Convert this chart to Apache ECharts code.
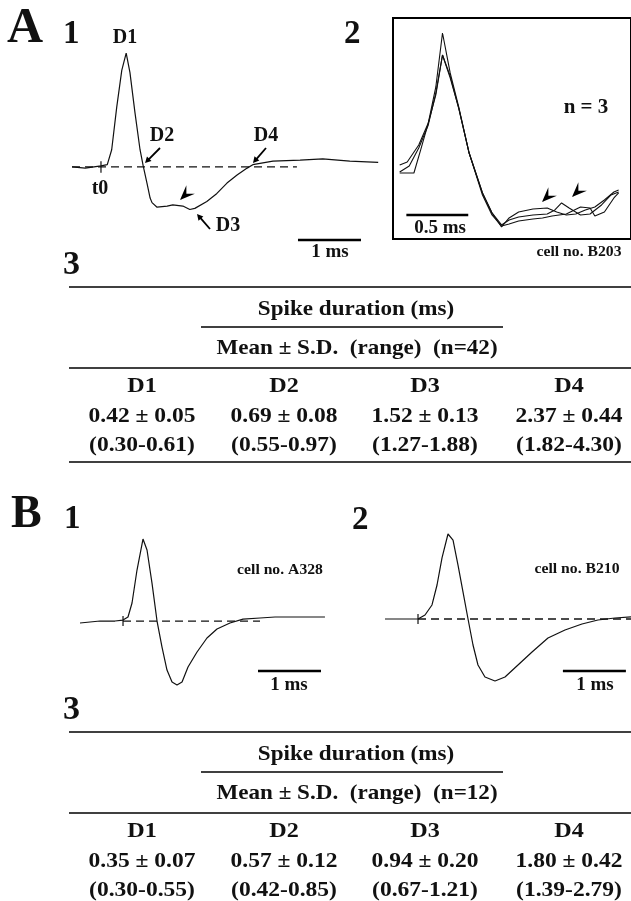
<!DOCTYPE html>
<html>
<head>
<meta charset="utf-8">
<script src="https://cdn.jsdelivr.net/npm/echarts@6/dist/echarts.min.js"></script>
<style>
html,body{margin:0;padding:0;background:#fff;}
#c{width:631px;height:901px;}
</style>
</head>
<body>
<div id="c"></div>
<script>
// ---------- DATA (time in ms from t0, amplitude in normalised units) ----------
const a1Trace = [[-0.46,0],[-0.25,-0.01],[0,0.01],[0.10,0.02],[0.17,0.15],[0.25,0.52],[0.33,0.84],[0.40,0.99],[0.46,0.82],[0.54,0.47],[0.62,0.15],[0.67,0.01],[0.73,-0.14],[0.78,-0.27],[0.81,-0.31],[0.89,-0.35],[1.05,-0.34],[1.14,-0.33],[1.30,-0.34],[1.41,-0.37],[1.49,-0.36],[1.68,-0.30],[1.84,-0.23],[2.00,-0.14],[2.16,-0.07],[2.32,-0.01],[2.41,0.02],[2.73,0.05],[3.16,0.06],[3.52,0.07],[3.95,0.05],[4.40,0.04]];
const a1Baseline = [[-0.46,0],[3.11,0]];

const a2Trace1 = [[0.054,0.022],[0.115,0.044],[0.208,0.170],[0.285,0.333],[0.346,0.600],[0.400,1.000],[0.462,0.704],[0.531,0.452],[0.615,0.111],[0.723,-0.185],[0.800,-0.333],[0.877,-0.437],[0.938,-0.370],[1.015,-0.326],[1.131,-0.304],[1.246,-0.296],[1.323,-0.326],[1.400,-0.348],[1.477,-0.341],[1.554,-0.311],[1.631,-0.289],[1.708,-0.237],[1.785,-0.178],[1.823,-0.163]];
const a2Trace2 = [[0.054,-0.037],[0.169,-0.037],[0.223,0.133],[0.285,0.333],[0.346,0.541],[0.400,0.837],[0.462,0.667],[0.531,0.444],[0.615,0.111],[0.723,-0.185],[0.800,-0.333],[0.877,-0.422],[0.938,-0.385],[1.015,-0.363],[1.131,-0.348],[1.246,-0.341],[1.308,-0.311],[1.362,-0.259],[1.423,-0.296],[1.515,-0.348],[1.592,-0.341],[1.685,-0.274],[1.762,-0.200],[1.823,-0.178]];
const a2Trace3 = [[0.054,-0.030],[0.131,0.015],[0.208,0.148],[0.285,0.319],[0.346,0.556],[0.400,0.837],[0.462,0.681],[0.531,0.444],[0.615,0.111],[0.723,-0.200],[0.800,-0.348],[0.877,-0.430],[0.938,-0.415],[1.015,-0.393],[1.131,-0.378],[1.208,-0.370],[1.285,-0.356],[1.400,-0.341],[1.515,-0.289],[1.592,-0.296],[1.631,-0.356],[1.708,-0.326],[1.785,-0.222],[1.823,-0.185]];

const b1Trace = [[-0.683,-0.024],[-0.365,0],[-0.127,0],[0,0.012],[0.079,0.049],[0.143,0.220],[0.222,0.622],[0.317,1.0],[0.381,0.866],[0.460,0.463],[0.540,0],[0.619,-0.317],[0.698,-0.598],[0.778,-0.744],[0.857,-0.780],[0.937,-0.744],[1.032,-0.561],[1.175,-0.378],[1.333,-0.207],[1.492,-0.098],[1.698,-0.024],[1.905,0.024],[2.175,0.037],[2.413,0.049],[3.206,0.049]];
const b1Baseline = [[0,0],[2.175,0]];

const b2Trace = [[-0.524,0],[0,0],[0.111,0.047],[0.222,0.165],[0.302,0.400],[0.381,0.718],[0.476,1.0],[0.556,0.929],[0.635,0.635],[0.714,0.318],[0.794,0],[0.873,-0.306],[0.952,-0.541],[1.063,-0.682],[1.222,-0.729],[1.381,-0.682],[1.587,-0.541],[1.810,-0.388],[2.063,-0.224],[2.333,-0.129],[2.603,-0.059],[2.857,-0.012],[3.127,0.012],[3.381,0.024]];
const b2Baseline = [[0,0],[3.381,0]];

// scale bars: [start ms, length ms, level]
const a1ScaleBar = [3.127, 1.0, -0.635];
const a2ScaleBar = [0.108, 0.5, -0.348];
const b1ScaleBar = [2.143, 1.0, -0.61];
const b2ScaleBar = [2.30, 1.0, -0.612];

// tables
const durationCols = ['D1','D2','D3','D4'];
const aMean = [0.42,0.69,1.52,2.37];
const aSD   = [0.05,0.08,0.13,0.44];
const aLo   = [0.30,0.55,1.27,1.82];
const aHi   = [0.61,0.97,1.88,4.30];
const aN = 42;
const bMean = [0.35,0.57,0.94,1.80];
const bSD   = [0.07,0.12,0.20,0.42];
const bLo   = [0.30,0.42,0.67,1.39];
const bHi   = [0.55,0.85,1.21,2.79];
const bN = 12;

// ---------- CHART ----------
const chart = echarts.init(document.getElementById('c'), null, {renderer:'canvas'});
const FF = '"Liberation Serif","Times New Roman",serif';
const INK = '#111';

function axisPair(min, max, ymin, ymax) {
  return {x:{type:'value', min:min, max:max, show:false}, y:{type:'value', min:ymin, max:ymax, show:false}};
}
const axes = [
  axisPair(-0.46, 4.397, -0.809, 1.104),   // A1
  axisPair(0, 1.923, -0.526, 1.111),       // A2
  axisPair(-0.683, 3.286, -0.963, 1.11),   // B1
  axisPair(-0.524, 3.381, -0.953, 1.047)   // B2
];
const grids = [
  {left:72, top:40, width:306, height:220},
  {left:393, top:18, width:250, height:221, show:true, borderColor:'#000', borderWidth:2, backgroundColor:'transparent'},
  {left:80, top:530, width:250, height:170},
  {left:385, top:530, width:246, height:170}
];

function trace(data, gi, w) {
  return {type:'line', data:data, xAxisIndex:gi, yAxisIndex:gi, symbol:'none', silent:true, smooth:false,
    lineStyle:{color:INK, width:w||1.2}, animation:false, clip:false};
}
function dashed(data, gi) {
  return {type:'line', data:data, xAxisIndex:gi, yAxisIndex:gi, symbol:'none', silent:true,
    lineStyle:{color:INK, width:1.3, type:[8,5]}, animation:false, clip:false};
}
function bar(sb, gi) {
  return {type:'line', data:[[sb[0], sb[2]],[sb[0]+sb[1], sb[2]]], xAxisIndex:gi, yAxisIndex:gi, symbol:'none', silent:true,
    lineStyle:{color:'#000', width:2.6}, animation:false, clip:false};
}
function tick(gi, h) {
  return {type:'line', data:[[0,h],[0,-h]], xAxisIndex:gi, yAxisIndex:gi, symbol:'none', silent:true,
    lineStyle:{color:INK, width:1.2}, animation:false, clip:false};
}

const series = [
  trace(a1Trace,0), dashed(a1Baseline,0), tick(0,0.05), bar(a1ScaleBar,0),
  trace(a2Trace1,1,1.1), trace(a2Trace2,1,1.1), trace(a2Trace3,1,1.1), bar(a2ScaleBar,1),
  trace(b1Trace,2), dashed(b1Baseline,2), tick(2,0.06), bar(b1ScaleBar,2),
  trace(b2Trace,3), dashed(b2Baseline,3), tick(3,0.06), bar(b2ScaleBar,3)
];

// ---------- ANNOTATIONS ----------
const g = [];
function txt(s, x, y, size, opt) {
  opt = opt || {};
  g.push({type:'text', x:x, y:y, scaleX:opt.sx||1, silent:true,
    style:{text:s, font:'bold '+size+'px '+FF, fill:INK,
      textAlign:opt.align||'center', textVerticalAlign:opt.va||'middle'}});
}
function hline(x1, x2, y, w) {
  g.push({type:'line', silent:true, shape:{x1:x1,y1:y,x2:x2,y2:y}, style:{stroke:'#000', lineWidth:w||1.5}});
}
function smallArrow(tx, ty, hx, hy) {
  const dx = hx-tx, dy = hy-ty, L = Math.hypot(dx,dy), ux = dx/L, uy = dy/L;
  const hl = 6, hw = 3.2;
  g.push({type:'line', silent:true, shape:{x1:tx,y1:ty,x2:hx-ux*hl*0.7,y2:hy-uy*hl*0.7}, style:{stroke:'#000', lineWidth:1.8}});
  g.push({type:'polygon', silent:true, shape:{points:[[hx,hy],[hx-ux*hl-uy*hw, hy-uy*hl+ux*hw],[hx-ux*hl+uy*hw, hy-uy*hl-ux*hw]]}, style:{fill:'#000'}});
}
function bigHead(tx, ty) { // pointing down-left
  const L = 15, W = 6, bx = 0.7071, by = -0.7071, px = 0.7071, py = 0.7071;
  g.push({type:'polygon', silent:true, shape:{points:[
    [tx,ty],
    [tx+bx*L+px*W, ty+by*L+py*W],
    [tx+bx*L*0.6, ty+by*L*0.6],
    [tx+bx*L-px*W, ty+by*L-py*W]
  ]}, style:{fill:'#000'}});
}

// panel letters (y = cap centre)
txt('A', 7, 29, 50, {align:'left'});
txt('1', 63, 34, 33, {align:'left'});
txt('2', 344, 34, 33, {align:'left'});
txt('3', 63, 265, 34, {align:'left'});
txt('B', 11, 515, 46, {align:'left'});
txt('1', 64, 519, 33, {align:'left'});
txt('2', 352, 520, 33, {align:'left'});
txt('3', 63, 710, 34, {align:'left'});

// A1 labels
txt('D1', 125, 38, 20);
txt('D2', 162, 136, 20);
txt('D4', 266, 136, 20);
txt('t0', 100, 189, 20);
txt('D3', 228, 226, 20);
txt('1 ms', 330, 252, 19);
smallArrow(160,148,145,163);
smallArrow(266,148,253,163);
smallArrow(210,229,197,214);
bigHead(180,200);

// A2 labels
txt('n = 3', 586, 108, 21);
txt('0.5 ms', 440, 228, 19);
txt('cell no. B203', 579, 252, 14, {sx:1.12});
bigHead(542,202);
bigHead(572,197);

// B labels
txt('cell no. A328', 280, 570, 14, {sx:1.12});
txt('cell no. B210', 577, 569, 14, {sx:1.12});
txt('1 ms', 289, 685, 19);
txt('1 ms', 595, 685, 19);

// tables
const colX = [142, 284, 425, 569];
function table(o, mean, sd, lo, hi, n) {
  hline(69, 631, o+0, 1.5);
  txt('Spike duration (ms)', 356, o+23, 21, {sx:1.1});
  hline(201, 503, o+40, 1.5);
  txt('Mean ± S.D.  (range)  (n=' + n + ')', 357, o+62, 21, {sx:1.1});
  hline(69, 631, o+81, 1.5);
  for (let i = 0; i < durationCols.length; i++) {
    txt(durationCols[i], colX[i], o+100, 21, {sx:1.15});
    txt(mean[i].toFixed(2) + ' ± ' + sd[i].toFixed(2), colX[i], o+130, 21, {sx:1.12});
    txt('(' + lo[i].toFixed(2) + '-' + hi[i].toFixed(2) + ')', colX[i], o+159, 21, {sx:1.12});
  }
}
table(287, aMean, aSD, aLo, aHi, aN);
hline(69, 631, 462, 1.5);
table(732, bMean, bSD, bLo, bHi, bN);

chart.setOption({
  backgroundColor:'#fff',
  animation:false,
  grid:grids,
  xAxis:axes.map((a,i)=>Object.assign({gridIndex:i}, a.x)),
  yAxis:axes.map((a,i)=>Object.assign({gridIndex:i}, a.y)),
  series:series,
  graphic:{elements:g}
});
</script>
</body>
</html>
